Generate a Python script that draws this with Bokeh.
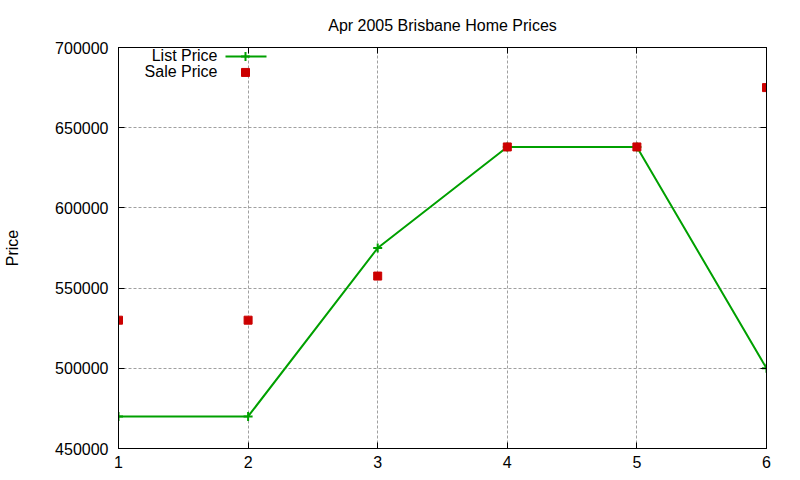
from bokeh.plotting import figure
from bokeh.models import (LinearAxis, FixedTicker, Range1d, Label)
from bokeh.embed import file_html
from bokeh.resources import INLINE

# ---- data ----
house = [1, 2, 3, 4, 5, 6]
list_price = [470000, 470000, 575000, 638000, 638000, 500000]
sale_price = [530000, 530000, 557500, 638000, 638000, 675000]
x_ticks = [1, 2, 3, 4, 5, 6]
y_ticks = [450000, 500000, 550000, 600000, 650000, 700000]
y_tick_labels = ["450000", "500000", "550000", "600000", "650000", "700000"]
title_text = "Apr 2005 Brisbane Home Prices"
y_label = "Price"
series_names = ["List Price", "Sale Price"]

FONT = "Liberation Sans"
FS = "16px"
GREEN = "#00a000"
RED = "#cc0000"
GRID = "#a0a0a0"

W, H = 800, 480
BL, BR, BT, BB = 118, 34, 46, 32
FW, FH = W - BL - BR, H - BT - BB

p = figure(width=W, height=H, output_backend="svg", toolbar_location=None,
           x_range=Range1d(1, 6), y_range=Range1d(450000, 700000),
           min_border_left=BL, min_border_right=BR, min_border_top=BT, min_border_bottom=BB,
           background_fill_color="white", border_fill_color="white")

p.title.text = title_text
p.title.text_font = FONT
p.title.text_font_size = FS
p.title.text_font_style = "normal"
p.title.text_color = "#000000"
p.title.align = "center"
p.title.standoff = 28

p.outline_line_color = "black"
p.outline_line_width = 1
p.outline_line_alpha = 1

def style_axis(ax):
    ax.axis_line_color = "black"
    ax.major_tick_in = 6
    ax.major_tick_out = 0
    ax.minor_tick_line_color = None
    ax.major_tick_line_color = "black"
    ax.major_label_text_font = FONT
    ax.major_label_text_font_size = FS
    ax.major_label_text_color = "#000000"

xa = p.xaxis[0]
xa.ticker = FixedTicker(ticks=x_ticks)
style_axis(xa)
xa.major_label_standoff = 7

ya = p.yaxis[0]
ya.ticker = FixedTicker(ticks=y_ticks)
ya.major_label_overrides = {t: s for t, s in zip(y_ticks, y_tick_labels)}
style_axis(ya)
ya.major_label_standoff = 10
ya.axis_label = y_label
ya.axis_label_text_font = FONT
ya.axis_label_text_font_size = FS
ya.axis_label_text_font_style = "normal"
ya.axis_label_text_color = "#000000"
ya.axis_label_standoff = 31

# mirrored ticks on top and right
top = LinearAxis(ticker=FixedTicker(ticks=x_ticks),
                 major_label_overrides={t: "" for t in x_ticks})
style_axis(top)
top.major_label_standoff = 0
p.add_layout(top, "above")
right = LinearAxis(ticker=FixedTicker(ticks=y_ticks),
                   major_label_overrides={t: "" for t in y_ticks})
style_axis(right)
right.major_label_standoff = 0
p.add_layout(right, "right")

p.xgrid.ticker = FixedTicker(ticks=x_ticks)
p.ygrid.ticker = FixedTicker(ticks=y_ticks)
for g in (p.xgrid[0], p.ygrid[0]):
    g.grid_line_color = GRID
    g.grid_line_dash = "3 2"
    g.grid_line_width = 1

# data
p.line(house, list_price, line_color=GREEN, line_width=2)
p.scatter(house, list_price, marker="cross", size=9, line_color=GREEN, line_width=2)
p.scatter(house, sale_price, marker="square", size=8, fill_color=RED, line_color=RED)

# legend (gnuplot style: text left, key right), in frame pixel coordinates
p.extra_x_ranges["px"] = Range1d(0, FW)
p.extra_y_ranges["px"] = Range1d(0, FH)
row_y = [FH - 9, FH - 25]
text_right = 99
key_x0, key_x1, key_mid = 107, 148, 127
for name, yy in zip(series_names, row_y):
    p.add_layout(Label(x=text_right, y=yy, x_units="screen", y_units="screen", text=name,
                       text_align="right", text_baseline="middle", text_font=FONT,
                       text_font_size=FS, text_color="#000000"))
p.line([key_x0, key_x1], [row_y[0], row_y[0]], line_color=GREEN, line_width=2,
       x_range_name="px", y_range_name="px")
p.scatter([key_mid], [row_y[0]], marker="cross", size=9, line_color=GREEN, line_width=2,
          x_range_name="px", y_range_name="px")
p.scatter([key_mid], [row_y[1]], marker="square", size=8, fill_color=RED, line_color=RED,
          x_range_name="px", y_range_name="px")

open("out.html", "w").write(file_html(p, INLINE))
